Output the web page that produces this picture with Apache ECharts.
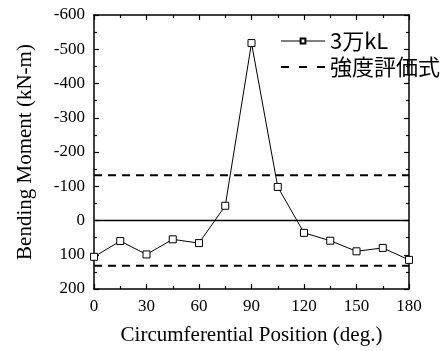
<!DOCTYPE html>
<html>
<head>
<meta charset="utf-8">
<script src="https://cdn.jsdelivr.net/npm/echarts@6/dist/echarts.min.js"></script>
<style>
  html, body { margin: 0; padding: 0; background: #fff; }
  #main { width: 441px; height: 351px; }
</style>
</head>
<body>
<div id="main"></div>
<script>
// 周方向位置 (deg.)
var positions = [0, 15, 30, 45, 60, 75, 90, 105, 120, 135, 150, 165, 180];
// 3万kL の曲げモーメント
var moment3man = [106, 60, 99, 55, 66, -43, -518, -98, 36, 59, 90, 80, 115];
// 強度評価式 (±)
var limitLevel = 132;
var xTicks = [0, 180, 30];      // min, max, interval
var yTicks = [-600, 200, 100];

var serif = '"Liberation Serif", "Times New Roman", serif';
var black = '#000';

var mainData = positions.map(function (p, i) { return [p, moment3man[i]]; });

var dom = document.getElementById('main');
var myChart = echarts.init(dom);

var tickLine = { color: black, width: 1.2 };

var option = {
    animation: false,
    backgroundColor: '#fff',
    grid: { left: 94, right: 32, top: 15, bottom: 61 },
    legend: {
        orient: 'vertical',
        left: 275,
        top: 25,
        itemWidth: 44,
        itemHeight: 6,
        itemGap: 4,
        textStyle: { fontFamily: '"Noto Sans CJK JP", sans-serif', fontSize: 22, color: black },
        data: [
            { name: '3万kL', lineStyle: { width: 1 } },
            { name: '強度評価式', itemStyle: { opacity: 0 }, lineStyle: { type: [8, 10], width: 2 } }
        ]
    },
    xAxis: [{
        type: 'value',
        min: xTicks[0], max: xTicks[1], interval: xTicks[2],
        name: 'Circumferential Position (deg.)',
        nameLocation: 'middle',
        nameGap: 36,
        nameTextStyle: { fontFamily: serif, fontSize: 21, color: black },
        axisLine: { onZero: false, lineStyle: { color: black, width: 1.5 } },
        axisTick: { inside: true, length: 5, lineStyle: tickLine },
        minorTick: { show: true, splitNumber: 2, length: 3, lineStyle: tickLine },
        axisLabel: { fontFamily: serif, fontSize: 17, color: black, margin: 9 },
        splitLine: { show: false }
    }, {
        type: 'value', position: 'top',
        min: xTicks[0], max: xTicks[1], interval: xTicks[2],
        axisLine: { onZero: false, lineStyle: { color: black, width: 1.5 } },
        axisTick: { inside: true, length: 5, lineStyle: tickLine },
        minorTick: { show: true, splitNumber: 2, length: 3, lineStyle: tickLine },
        axisLabel: { show: false },
        splitLine: { show: false }
    }],
    yAxis: [{
        type: 'value',
        inverse: true,
        min: yTicks[0], max: yTicks[1], interval: yTicks[2],
        name: 'Bending Moment (kN-m)',
        nameLocation: 'middle',
        nameGap: 58,
        nameTextStyle: { fontFamily: serif, fontSize: 21, color: black },
        axisLine: { onZero: false, lineStyle: { color: black, width: 1.5 } },
        axisTick: { inside: true, length: 5, lineStyle: tickLine },
        minorTick: { show: true, splitNumber: 2, length: 3, lineStyle: tickLine },
        axisLabel: { fontFamily: serif, fontSize: 17, color: black, margin: 9 },
        splitLine: { show: false }
    }, {
        type: 'value', position: 'right',
        inverse: true,
        min: yTicks[0], max: yTicks[1], interval: yTicks[2],
        axisLine: { onZero: false, lineStyle: { color: black, width: 1.5 } },
        axisTick: { inside: true, length: 5, lineStyle: tickLine },
        minorTick: { show: true, splitNumber: 2, length: 3, lineStyle: tickLine },
        axisLabel: { show: false },
        splitLine: { show: false }
    }],
    series: [{
        name: 'zero',
        type: 'line',
        data: [[xTicks[0], 0], [xTicks[1], 0]],
        symbol: 'none',
        lineStyle: { color: black, width: 1.5 },
        silent: true
    }, {
        name: '強度評価式',
        type: 'line',
        data: [[xTicks[0], -limitLevel], [xTicks[1], -limitLevel]],
        symbol: 'none',
        itemStyle: { color: black },
        lineStyle: { color: black, width: 2, type: [8, 6] }
    }, {
        name: '強度評価式',
        type: 'line',
        data: [[xTicks[0], limitLevel], [xTicks[1], limitLevel]],
        symbol: 'none',
        itemStyle: { color: black },
        lineStyle: { color: black, width: 2, type: [8, 6] }
    }, {
        name: '3万kL',
        type: 'line',
        data: mainData,
        symbol: 'rect',
        symbolSize: 7,
        itemStyle: { color: '#fff', borderColor: black, borderWidth: 1 },
        lineStyle: { color: black, width: 1 },
        z: 5
    }]
};

myChart.setOption(option, true);
</script>
</body>
</html>
